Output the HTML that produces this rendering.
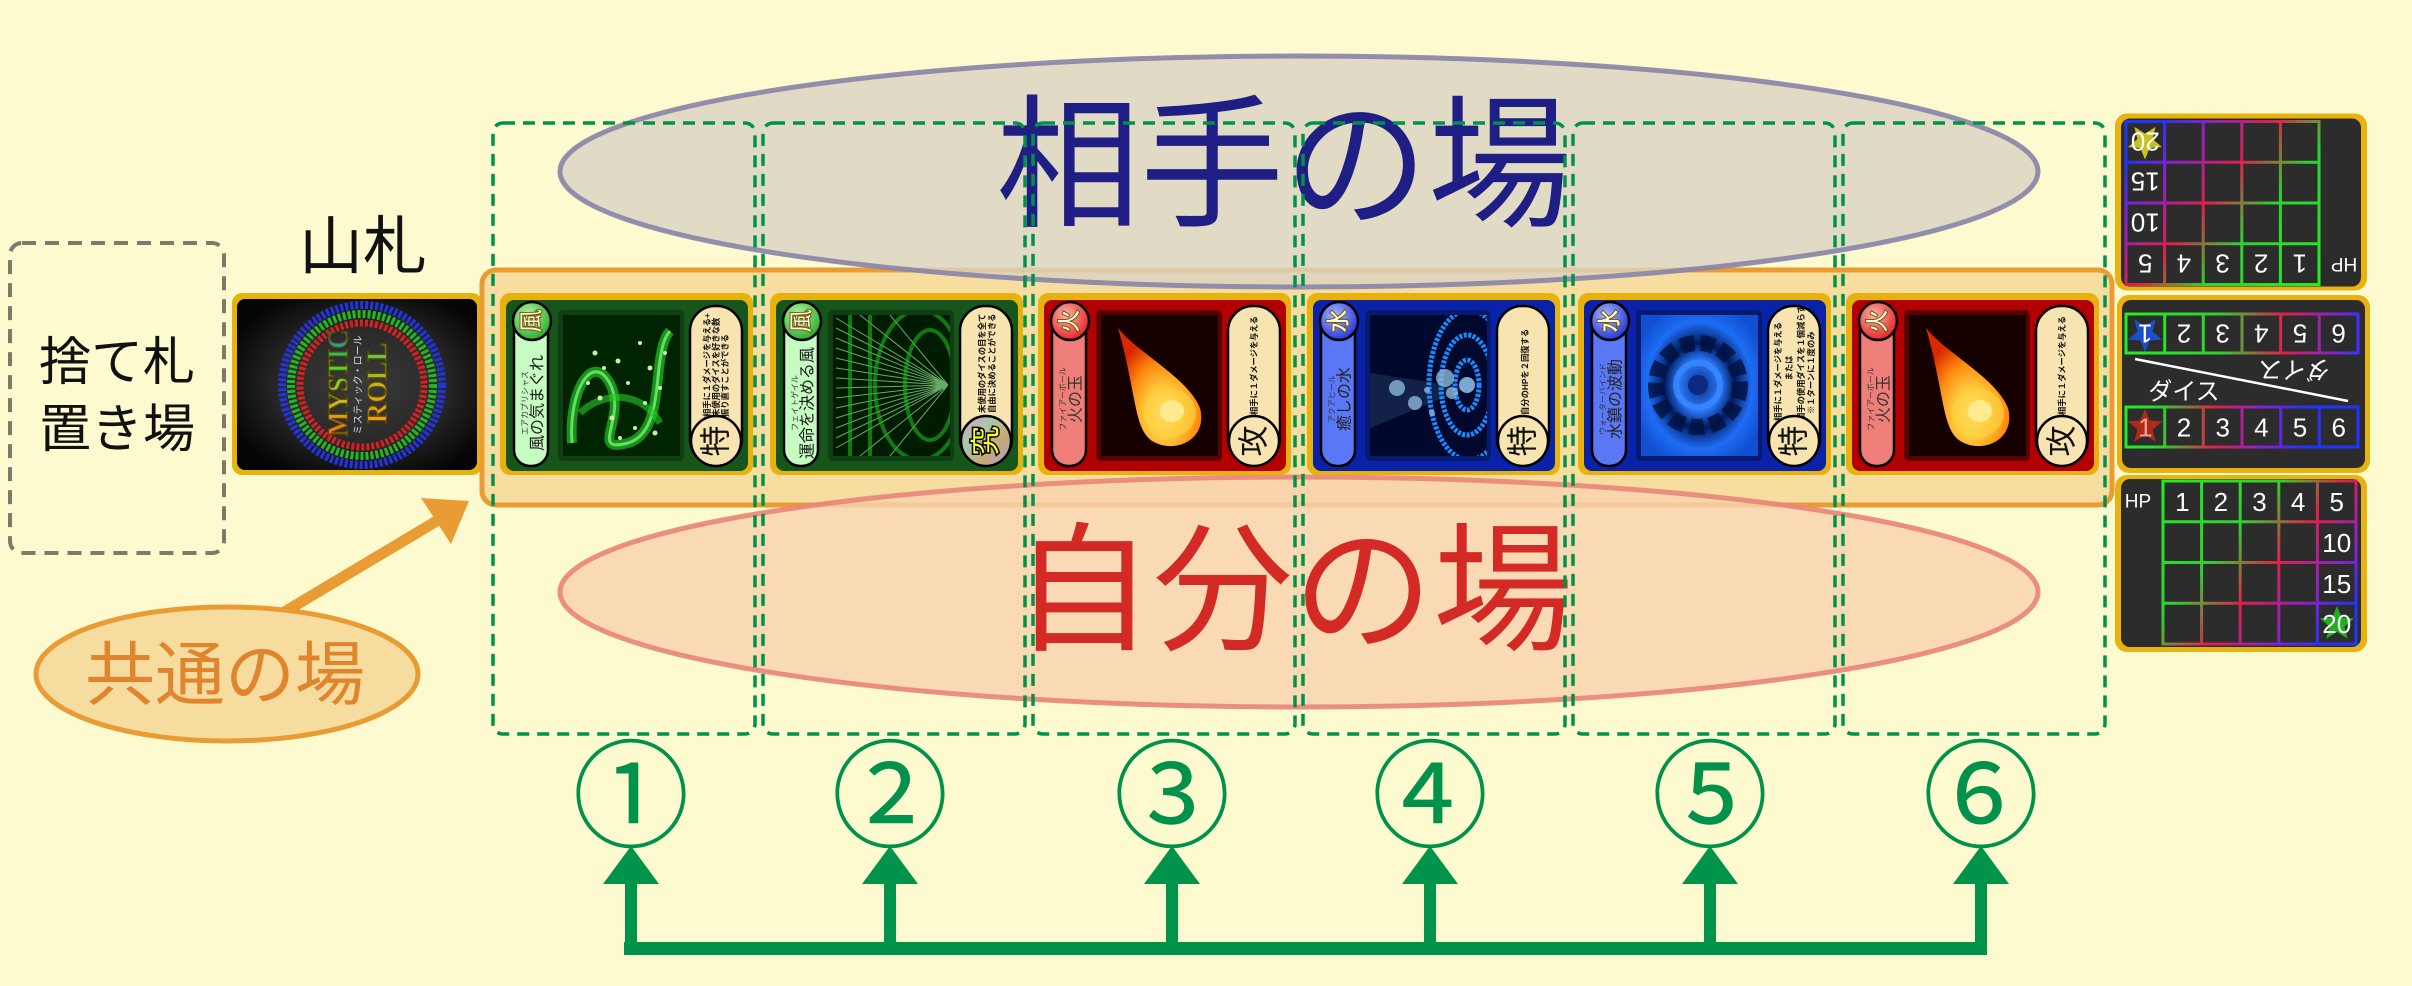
<!DOCTYPE html>
<html><head><meta charset="utf-8">
<style>
html,body{margin:0;padding:0;background:#fefacf;}
svg{display:block;}
.jp{font-family:"Liberation Sans","Noto Sans CJK JP",sans-serif;}
.nm{font-family:"Liberation Sans","Noto Sans CJK JP",sans-serif;font-size:16px;text-anchor:middle;dominant-baseline:central;fill:#1a1a1a;}
.rb{font-family:"Liberation Sans","Noto Sans CJK JP",sans-serif;font-size:8px;text-anchor:middle;dominant-baseline:central;fill:#333;}
.ef{font-family:"Liberation Sans","Noto Sans CJK JP",sans-serif;font-size:8.3px;text-anchor:start;dominant-baseline:central;fill:#111;font-weight:bold;}
.el{font-family:"Liberation Sans","Noto Sans CJK JP",sans-serif;font-size:24px;text-anchor:middle;dominant-baseline:central;fill:#fffbe0;stroke:#6b5200;stroke-width:0.9px;font-weight:bold;}
.bd{font-family:"Liberation Sans","Noto Sans CJK JP",sans-serif;font-size:31px;text-anchor:middle;dominant-baseline:central;fill:#111;}
.num{font-family:"Liberation Sans",sans-serif;font-size:26px;text-anchor:middle;dominant-baseline:central;fill:#fff;}
.dj{font-family:"Liberation Sans","Noto Sans CJK JP",sans-serif;font-size:24px;text-anchor:middle;dominant-baseline:central;fill:#fff;}
.cn{font-family:"Noto Sans CJK JP","Liberation Sans",sans-serif;font-size:117px;font-weight:normal;text-anchor:middle;dominant-baseline:central;fill:#00924a;}
</style></head>
<body>
<svg width="2412" height="986" viewBox="0 0 2412 986" xmlns="http://www.w3.org/2000/svg">
<defs>
  <radialGradient id="elG" cx="0.4" cy="0.35" r="0.7"><stop offset="0" stop-color="#b8f7a8"/><stop offset="1" stop-color="#23a823"/></radialGradient>
  <radialGradient id="elR" cx="0.4" cy="0.35" r="0.7"><stop offset="0" stop-color="#ffb0a8"/><stop offset="1" stop-color="#e31e1e"/></radialGradient>
  <radialGradient id="elB" cx="0.4" cy="0.35" r="0.7"><stop offset="0" stop-color="#a8b8ff"/><stop offset="1" stop-color="#1f2fd8"/></radialGradient>
  <linearGradient id="holo" x1="0" y1="0" x2="1" y2="1"><stop offset="0" stop-color="#d8a0c8"/><stop offset="0.35" stop-color="#a8c8a8"/><stop offset="0.65" stop-color="#c8a878"/><stop offset="1" stop-color="#a0a0d8"/></linearGradient>
  <radialGradient id="fire" cx="0.55" cy="0.72" r="0.65"><stop offset="0" stop-color="#fff6b0"/><stop offset="0.3" stop-color="#ffd040"/><stop offset="0.65" stop-color="#ff8a10"/><stop offset="1" stop-color="#d82800"/></radialGradient>
  <radialGradient id="deckbg" cx="0.52" cy="0.5" r="0.6"><stop offset="0" stop-color="#3a3a3a"/><stop offset="0.55" stop-color="#2a2a2a"/><stop offset="1" stop-color="#050505"/></radialGradient>
  <radialGradient id="swirlB" cx="0.5" cy="0.5" r="0.6"><stop offset="0" stop-color="#0a2a80"/><stop offset="0.3" stop-color="#2a7aff"/><stop offset="0.5" stop-color="#001a5a"/><stop offset="0.75" stop-color="#1e6cf5"/><stop offset="1" stop-color="#1050d0"/></radialGradient>
  <linearGradient id="mys" x1="0" y1="0" x2="1" y2="0"><stop offset="0" stop-color="#ff6a10"/><stop offset="0.35" stop-color="#c8c020"/><stop offset="0.7" stop-color="#30e030"/><stop offset="1" stop-color="#2060ff"/></linearGradient>
  <linearGradient id="rol" x1="0" y1="0" x2="1" y2="0"><stop offset="0" stop-color="#ff9a10"/><stop offset="0.5" stop-color="#c8b020"/><stop offset="1" stop-color="#30d060"/></linearGradient>
  <linearGradient id="gP" gradientUnits="userSpaceOnUse" x1="2163" y1="481" x2="2356" y2="644"><stop offset="0" stop-color="#22ee22"/><stop offset="0.35" stop-color="#30d030"/><stop offset="0.55" stop-color="#e0204a"/><stop offset="0.75" stop-color="#8822cc"/><stop offset="0.9" stop-color="#2233ff"/><stop offset="1" stop-color="#2233ff"/></linearGradient>
  <linearGradient id="gM1" gradientUnits="userSpaceOnUse" x1="2126" y1="0" x2="2358" y2="0"><stop offset="0" stop-color="#22ee22"/><stop offset="0.4" stop-color="#30d030"/><stop offset="0.68" stop-color="#e0204a"/><stop offset="0.88" stop-color="#8a22c8"/><stop offset="1" stop-color="#4030ff"/></linearGradient>
  <linearGradient id="gM2" gradientUnits="userSpaceOnUse" x1="2126" y1="0" x2="2358" y2="0"><stop offset="0" stop-color="#22ee22"/><stop offset="0.15" stop-color="#30d030"/><stop offset="0.38" stop-color="#e0204a"/><stop offset="0.58" stop-color="#8a22c8"/><stop offset="0.78" stop-color="#2233ff"/><stop offset="1" stop-color="#2233ff"/></linearGradient>
  <polygon id="star" points="0,-18 4.7,-6.5 17.1,-5.6 7.6,2.5 10.6,14.6 0,8 -10.6,14.6 -7.6,2.5 -17.1,-5.6 -4.7,-6.5"/>
  <clipPath id="ci"><rect x="63" y="22" width="117" height="141"/></clipPath>
</defs>

<rect width="2412" height="986" fill="#fefacf"/>

<!-- discard area -->
<rect x="10" y="243" width="214" height="310" rx="12" fill="none" stroke="#7c7a68" stroke-width="4" stroke-dasharray="14 9"/>
<text x="117" y="363" class="jp" font-size="52" text-anchor="middle" dominant-baseline="central" fill="#111">捨て札</text>
<text x="117" y="430" class="jp" font-size="52" text-anchor="middle" dominant-baseline="central" fill="#111">置き場</text>

<!-- deck -->
<text x="363" y="247" class="jp" font-size="64" text-anchor="middle" dominant-baseline="central" fill="#111">山札</text>
<g transform="translate(232,293)">
  <rect width="250" height="182" rx="10" fill="#e8b20e"/>
  <rect x="5" y="6" width="240" height="171" rx="8" fill="url(#deckbg)"/>
  <circle cx="130" cy="92" r="80" fill="none" stroke="#2233e0" stroke-width="8" stroke-dasharray="3 2"/>
  <circle cx="130" cy="92" r="71" fill="none" stroke="#22b822" stroke-width="8" stroke-dasharray="3 2"/>
  <circle cx="130" cy="92" r="62" fill="none" stroke="#d82020" stroke-width="7" stroke-dasharray="3 2"/>
  <g transform="translate(107,90) rotate(-90)">
    <text x="0" y="0" font-family="Liberation Serif,serif" font-weight="bold" font-size="28" text-anchor="middle" dominant-baseline="central" fill="url(#mys)" stroke="#5a4a00" stroke-width="1.2" textLength="107" lengthAdjust="spacingAndGlyphs">MYSTIC</text>
  </g>
  <g transform="translate(127,92) rotate(-90)">
    <text x="0" y="0" class="jp" font-size="10" text-anchor="middle" dominant-baseline="central" fill="#ddd">ミスティック・ロール</text>
  </g>
  <g transform="translate(146,90) rotate(-90)">
    <text x="0" y="0" font-family="Liberation Serif,serif" font-weight="bold" font-size="28" text-anchor="middle" dominant-baseline="central" fill="url(#rol)" stroke="#5a4a00" stroke-width="1.2" textLength="81" lengthAdjust="spacingAndGlyphs">ROLL</text>
  </g>
</g>

<!-- common area -->
<rect x="482" y="270" width="1630" height="235" rx="14" fill="#f7dea0" stroke="#e99c33" stroke-width="5"/>

<!-- ellipses -->
<ellipse cx="1299" cy="171.5" rx="739" ry="115.5" fill="#dad3c1" fill-opacity="0.82" stroke="#8a85a8" stroke-width="5" stroke-opacity="0.92"/>
<ellipse cx="1299" cy="592" rx="739" ry="115" fill="#f9d3ae" fill-opacity="0.82" stroke="#e8877a" stroke-width="5" stroke-opacity="0.92"/>
<text x="1284" y="166" class="jp" font-size="144" font-weight="normal" text-anchor="middle" dominant-baseline="central" fill="#1e1e84">相手の場</text>
<text x="1293" y="591" class="jp" font-size="140" font-weight="normal" text-anchor="middle" dominant-baseline="central" fill="#d42a25">自分の場</text>

<!-- CARD 1 -->
<g transform="translate(500,293)">
  <rect width="253" height="182" rx="10" fill="#e8b20e"/>
  <rect x="6" y="7" width="242" height="171" rx="8" fill="#17561b"/>
  <rect x="14" y="10" width="34" height="163" rx="16" fill="#c6fbc2" stroke="#000" stroke-width="2.5"/>
  <circle cx="32" cy="28" r="19" fill="url(#elG)" stroke="#000" stroke-width="2.5"/>
  <text transform="translate(32,28) rotate(-90)" class="el">風</text>
  <text transform="translate(38,110) rotate(-90)" class="nm">風の気まぐれ</text>
  <text transform="translate(25,110) rotate(-90)" class="rb">エアカプリシャス</text>
  <rect x="58" y="17" width="126" height="151" rx="5" fill="#0e3e12"/>
  <g clip-path="url(#ci)">
    <rect x="63" y="22" width="117" height="141" fill="#002400"/>
    <path d="M72,150 C68,95 95,55 112,95 C124,128 90,160 128,150 C168,138 150,60 170,38" fill="none" stroke="#1fb81f" stroke-width="10" opacity="0.75"/>
    <path d="M72,150 C68,95 95,55 112,95 C124,128 90,160 128,150 C168,138 150,60 170,38" fill="none" stroke="#7af07a" stroke-width="3" opacity="0.8"/>
    <path d="M80,120 C100,100 140,95 160,130" fill="none" stroke="#28c828" stroke-width="7" opacity="0.6"/>
    <g fill="#c8f0a0">
      <circle cx="95" cy="60" r="2.5"/><circle cx="104" cy="75" r="2"/><circle cx="118" cy="68" r="2.5"/><circle cx="140" cy="50" r="2"/><circle cx="150" cy="75" r="2.5"/>
      <circle cx="128" cy="90" r="2"/><circle cx="100" cy="105" r="2.5"/><circle cx="145" cy="110" r="2"/><circle cx="160" cy="95" r="2"/><circle cx="112" cy="125" r="2.5"/>
      <circle cx="135" cy="135" r="2"/><circle cx="88" cy="90" r="2"/><circle cx="155" cy="140" r="2.5"/><circle cx="120" cy="145" r="2"/><circle cx="165" cy="60" r="2"/>
    </g>
  </g>
  <rect x="190" y="13" width="52" height="158" rx="25" fill="#f8e4b0" stroke="#000" stroke-width="2.5"/>
  <text transform="translate(207,124) rotate(-90)" class="ef">相手に１ダメージを与える+</text>
  <text transform="translate(216,124) rotate(-90)" class="ef">未使用のダイスを好きな数</text>
  <text transform="translate(225,124) rotate(-90)" class="ef">振り直すことができる</text>
  <circle cx="216" cy="148" r="25" fill="#f8e4b0" stroke="#000" stroke-width="2.5"/>
  <text transform="translate(216,148) rotate(-90)" class="bd">特</text>
</g>

<!-- CARD 2 -->
<g transform="translate(770,293)">
  <rect width="253" height="182" rx="10" fill="#e8b20e"/>
  <rect x="6" y="7" width="242" height="171" rx="8" fill="#17561b"/>
  <rect x="14" y="10" width="34" height="163" rx="16" fill="#c6fbc2" stroke="#000" stroke-width="2.5"/>
  <circle cx="32" cy="28" r="19" fill="url(#elG)" stroke="#000" stroke-width="2.5"/>
  <text transform="translate(32,28) rotate(-90)" class="el">風</text>
  <text transform="translate(38,110) rotate(-90)" class="nm">運命を決める風</text>
  <text transform="translate(25,110) rotate(-90)" class="rb">フェイトゲイル</text>
  <rect x="58" y="17" width="126" height="151" rx="5" fill="#0e3e12"/>
  <g clip-path="url(#ci)">
    <rect x="63" y="22" width="117" height="141" fill="#001c00"/>
    <g stroke="#8ad88a" stroke-width="1" opacity="0.75" fill="none">
      <path d="M178,92 L66,25 M178,92 L66,35 M178,92 L66,45 M178,92 L66,55 M178,92 L66,65 M178,92 L66,75 M178,92 L66,85 M178,92 L66,95 M178,92 L66,105 M178,92 L66,115 M178,92 L66,125 M178,92 L66,135 M178,92 L66,145 M178,92 L66,155 M178,92 L90,22 M178,92 L90,163 M178,92 L120,22 M178,92 L120,163"/>
    </g>
    <g stroke="#1fb81f" stroke-width="4" opacity="0.6" fill="none">
      <ellipse cx="160" cy="92" rx="25" ry="55"/><ellipse cx="150" cy="92" rx="45" ry="75"/>
      <path d="M80,22 L80,163 M100,22 L100,163"/>
    </g>
  </g>
  <rect x="190" y="13" width="52" height="158" rx="25" fill="#f8e4b0" stroke="#000" stroke-width="2.5"/>
  <text transform="translate(212,120) rotate(-90)" class="ef">未使用のダイスの目を全て</text>
  <text transform="translate(222,120) rotate(-90)" class="ef">自由に決めることができる</text>
  <circle cx="216" cy="148" r="25" fill="url(#holo)" stroke="#000" stroke-width="2.5"/>
  <text transform="translate(216,148) rotate(-90)" class="bd" stroke="#000" stroke-width="1.5" style="fill:#ffff20;font-weight:bold">究</text>
</g>

<!-- CARD 3 -->
<g transform="translate(1038,293)">
  <rect width="253" height="182" rx="10" fill="#e8b20e"/>
  <rect x="6" y="7" width="242" height="171" rx="8" fill="#b20000"/>
  <rect x="14" y="10" width="34" height="163" rx="16" fill="#ee7f78" stroke="#000" stroke-width="2.5"/>
  <circle cx="32" cy="28" r="19" fill="url(#elR)" stroke="#000" stroke-width="2.5"/>
  <text transform="translate(32,28) rotate(-90)" class="el">火</text>
  <text transform="translate(38,106) rotate(-90)" class="nm" style="fill:#333">火の玉</text>
  <text transform="translate(25,106) rotate(-90)" class="rb">ファイアーボール</text>
  <rect x="58" y="17" width="126" height="151" rx="5" fill="#5a0000"/>
  <g clip-path="url(#ci)">
    <rect x="63" y="22" width="117" height="141" fill="#160000"/>
    <path d="M80,35 C100,60 150,85 162,115 C170,145 140,160 118,150 C95,140 100,105 80,35 Z" fill="url(#fire)"/>
    <ellipse cx="132" cy="120" rx="26" ry="24" fill="#ffd040" opacity="0.7"/>
    <ellipse cx="134" cy="118" rx="12" ry="11" fill="#fff0a0" opacity="0.8"/>
  </g>
  <rect x="190" y="13" width="52" height="158" rx="25" fill="#f8e4b0" stroke="#000" stroke-width="2.5"/>
  <text transform="translate(216,122) rotate(-90)" class="ef">相手に１ダメージを与える</text>
  <circle cx="216" cy="148" r="25" fill="#f8e4b0" stroke="#000" stroke-width="2.5"/>
  <text transform="translate(216,148) rotate(-90)" class="bd">攻</text>
</g>

<!-- CARD 4 -->
<g transform="translate(1307,293)">
  <rect width="253" height="182" rx="10" fill="#e8b20e"/>
  <rect x="6" y="7" width="242" height="171" rx="8" fill="#0a22a8"/>
  <rect x="14" y="10" width="34" height="163" rx="16" fill="#5a78f5" stroke="#000" stroke-width="2.5"/>
  <circle cx="32" cy="28" r="19" fill="url(#elB)" stroke="#000" stroke-width="2.5"/>
  <text transform="translate(32,28) rotate(-90)" class="el">水</text>
  <text transform="translate(38,106) rotate(-90)" class="nm" style="fill:#222">癒しの水</text>
  <text transform="translate(25,106) rotate(-90)" class="rb">アクアヒール</text>
  <rect x="58" y="17" width="126" height="151" rx="5" fill="#061a70"/>
  <g clip-path="url(#ci)">
    <rect x="63" y="22" width="117" height="141" fill="#00082e"/>
    <path d="M63,80 L160,95 L63,135 Z" fill="#4a6a9a" opacity="0.25"/>
    <g fill="none" stroke="#1a8aff" stroke-width="5" stroke-dasharray="3 1.5">
      <ellipse cx="160" cy="92" rx="12" ry="25"/><ellipse cx="160" cy="92" rx="26" ry="50"/><ellipse cx="162" cy="92" rx="40" ry="75"/>
    </g>
    <circle cx="160" cy="92" r="8" fill="#9ad0ff" opacity="0.8"/>
    <g fill="#8ab8d8" opacity="0.8">
      <circle cx="138" cy="85" r="9"/><circle cx="145" cy="100" r="6"/><circle cx="90" cy="95" r="8"/><circle cx="108" cy="110" r="7"/><circle cx="120" cy="97" r="3"/><circle cx="125" cy="120" r="3"/>
    </g>
  </g>
  <rect x="190" y="13" width="52" height="158" rx="25" fill="#f8e4b0" stroke="#000" stroke-width="2.5"/>
  <text transform="translate(218,122) rotate(-90)" class="ef">自分のHPを２回復する</text>
  <circle cx="216" cy="148" r="25" fill="#f8e4b0" stroke="#000" stroke-width="2.5"/>
  <text transform="translate(216,148) rotate(-90)" class="bd">特</text>
</g>

<!-- CARD 5 -->
<g transform="translate(1578,293)">
  <rect width="253" height="182" rx="10" fill="#e8b20e"/>
  <rect x="6" y="7" width="242" height="171" rx="8" fill="#0a22a8"/>
  <rect x="14" y="10" width="34" height="163" rx="16" fill="#5a78f5" stroke="#000" stroke-width="2.5"/>
  <circle cx="32" cy="28" r="19" fill="url(#elB)" stroke="#000" stroke-width="2.5"/>
  <text transform="translate(32,28) rotate(-90)" class="el">水</text>
  <text transform="translate(38,106) rotate(-90)" class="nm" style="fill:#222">水鎮の波動</text>
  <text transform="translate(25,106) rotate(-90)" class="rb">ウォーターバインド</text>
  <rect x="58" y="17" width="126" height="151" rx="5" fill="#061a70"/>
  <g clip-path="url(#ci)">
    <rect x="63" y="22" width="117" height="141" fill="url(#swirlB)"/>
    <circle cx="120" cy="92" r="42" fill="none" stroke="#001040" stroke-width="16" stroke-dasharray="14 6" opacity="0.8"/>
    <circle cx="120" cy="92" r="22" fill="none" stroke="#3a8aff" stroke-width="6" opacity="0.8"/>
    <circle cx="120" cy="92" r="10" fill="#0a2a80"/>
  </g>
  <rect x="190" y="13" width="52" height="158" rx="25" fill="#f8e4b0" stroke="#000" stroke-width="2.5"/>
  <text transform="translate(200,128) rotate(-90)" class="ef">相手に１ダメージを与える</text>
  <text transform="translate(211,75) rotate(-90)" class="ef" style="text-anchor:middle">または</text>
  <text transform="translate(223,128) rotate(-90)" class="ef">相手の使用ダイスを１個減らす</text>
  <text transform="translate(233,121) rotate(-90)" class="ef">※１ターンに１度のみ</text>
  <circle cx="216" cy="148" r="25" fill="#f8e4b0" stroke="#000" stroke-width="2.5"/>
  <text transform="translate(216,148) rotate(-90)" class="bd">特</text>
</g>

<!-- CARD 6 -->
<g transform="translate(1846,293)">
  <rect width="253" height="182" rx="10" fill="#e8b20e"/>
  <rect x="6" y="7" width="242" height="171" rx="8" fill="#b20000"/>
  <rect x="14" y="10" width="34" height="163" rx="16" fill="#ee7f78" stroke="#000" stroke-width="2.5"/>
  <circle cx="32" cy="28" r="19" fill="url(#elR)" stroke="#000" stroke-width="2.5"/>
  <text transform="translate(32,28) rotate(-90)" class="el">火</text>
  <text transform="translate(38,106) rotate(-90)" class="nm" style="fill:#333">火の玉</text>
  <text transform="translate(25,106) rotate(-90)" class="rb">ファイアーボール</text>
  <rect x="58" y="17" width="126" height="151" rx="5" fill="#5a0000"/>
  <g clip-path="url(#ci)">
    <rect x="63" y="22" width="117" height="141" fill="#160000"/>
    <path d="M80,35 C100,60 150,85 162,115 C170,145 140,160 118,150 C95,140 100,105 80,35 Z" fill="url(#fire)"/>
    <ellipse cx="132" cy="120" rx="26" ry="24" fill="#ffd040" opacity="0.7"/>
    <ellipse cx="134" cy="118" rx="12" ry="11" fill="#fff0a0" opacity="0.8"/>
  </g>
  <rect x="190" y="13" width="52" height="158" rx="25" fill="#f8e4b0" stroke="#000" stroke-width="2.5"/>
  <text transform="translate(216,122) rotate(-90)" class="ef">相手に１ダメージを与える</text>
  <circle cx="216" cy="148" r="25" fill="#f8e4b0" stroke="#000" stroke-width="2.5"/>
  <text transform="translate(216,148) rotate(-90)" class="bd">攻</text>
</g>

<!-- RIGHT PANELS -->
<!-- top (rotated copy) -->
<g transform="rotate(180 2241 382.75)">
  <rect x="2115" y="475" width="252" height="177" rx="12" fill="#e9b30f"/>
  <rect x="2121" y="479" width="240" height="168" rx="9" fill="#2c2c2c"/>
  <text x="2138" y="502" class="num" style="font-size:19px">HP</text>
  <use href="#star" transform="translate(2337,624)" fill="#c8c020"/>
  <g stroke="url(#gP)" stroke-width="3" fill="none">
    <rect x="2163" y="481" width="193" height="163"/>
    <path d="M2201.6,481V644M2240.2,481V644M2278.8,481V644M2317.4,481V644M2163,521.75H2356M2163,562.5H2356M2163,603.25H2356"/>
  </g>
  <text x="2182.3" y="502" class="num">1</text><text x="2220.9" y="502" class="num">2</text><text x="2259.5" y="502" class="num">3</text><text x="2298.1" y="502" class="num">4</text><text x="2336.7" y="502" class="num">5</text>
  <text x="2336.7" y="543" class="num">10</text><text x="2336.7" y="584" class="num">15</text><text x="2336.7" y="624" class="num">20</text>
</g>

<!-- middle -->
<rect x="2117" y="295" width="253" height="178" rx="12" fill="#e9b30f"/>
<rect x="2122" y="300" width="243" height="168" rx="9" fill="#2c2c2c"/>
<use href="#star" transform="translate(2145,334) rotate(180)" fill="#1a50c8"/>
<g stroke="url(#gM1)" stroke-width="3" fill="none">
  <rect x="2126" y="314" width="232" height="39"/>
  <path d="M2164.7,314V353M2203.3,314V353M2242,314V353M2280.7,314V353M2319.3,314V353"/>
</g>
<text transform="translate(2145.3,333.5) rotate(180)" class="num">1</text>
<text transform="translate(2184,333.5) rotate(180)" class="num">2</text>
<text transform="translate(2222.7,333.5) rotate(180)" class="num">3</text>
<text transform="translate(2261.3,333.5) rotate(180)" class="num">4</text>
<text transform="translate(2300,333.5) rotate(180)" class="num">5</text>
<text transform="translate(2338.7,333.5) rotate(180)" class="num">6</text>
<line x1="2135" y1="359" x2="2348" y2="401" stroke="#fff" stroke-width="2.5"/>
<text x="2184" y="392" class="dj">ダイス</text>
<text transform="translate(2294,369) rotate(180)" class="dj">ダイス</text>
<use href="#star" transform="translate(2145,427)" fill="#b02a18"/>
<g stroke="url(#gM2)" stroke-width="3" fill="none">
  <rect x="2126" y="407" width="232" height="40"/>
  <path d="M2164.7,407V447M2203.3,407V447M2242,407V447M2280.7,407V447M2319.3,407V447"/>
</g>
<text x="2145.3" y="427.5" class="num" style="fill:#f0a090">1</text>
<text x="2184" y="427.5" class="num">2</text>
<text x="2222.7" y="427.5" class="num">3</text>
<text x="2261.3" y="427.5" class="num">4</text>
<text x="2300" y="427.5" class="num">5</text>
<text x="2338.7" y="427.5" class="num">6</text>

<!-- bottom -->
<g>
  <rect x="2115" y="475" width="252" height="177" rx="12" fill="#e9b30f"/>
  <rect x="2121" y="479" width="240" height="168" rx="9" fill="#2c2c2c"/>
  <text x="2138" y="502" class="num" style="font-size:19px">HP</text>
  <use href="#star" transform="translate(2337,624)" fill="#1fae1f"/>
  <g stroke="url(#gP)" stroke-width="3" fill="none">
    <rect x="2163" y="481" width="193" height="163"/>
    <path d="M2201.6,481V644M2240.2,481V644M2278.8,481V644M2317.4,481V644M2163,521.75H2356M2163,562.5H2356M2163,603.25H2356"/>
  </g>
  <text x="2182.3" y="502" class="num">1</text><text x="2220.9" y="502" class="num">2</text><text x="2259.5" y="502" class="num">3</text><text x="2298.1" y="502" class="num">4</text><text x="2336.7" y="502" class="num">5</text>
  <text x="2336.7" y="543" class="num">10</text><text x="2336.7" y="584" class="num">15</text><text x="2336.7" y="624" class="num">20</text>
</g>

<!-- 共通の場 -->
<line x1="281" y1="614" x2="440" y2="519" stroke="#e99c33" stroke-width="11" stroke-linecap="round"/>
<polygon points="469,501 421,498 451,544" fill="#e99c33"/>
<ellipse cx="227" cy="674" rx="191" ry="67" fill="#f7dc9f" stroke="#e99c33" stroke-width="5"/>
<text x="225" y="675" class="jp" font-size="70" text-anchor="middle" dominant-baseline="central" fill="#e0852e">共通の場</text>

<!-- columns -->
<g fill="none" stroke="#00924a" stroke-width="3.5" stroke-dasharray="12 8">
  <rect x="493" y="123" width="262" height="611" rx="10"/>
  <rect x="763" y="123" width="262" height="611" rx="10"/>
  <rect x="1033" y="123" width="262" height="611" rx="10"/>
  <rect x="1303" y="123" width="262" height="611" rx="10"/>
  <rect x="1573" y="123" width="262" height="611" rx="10"/>
  <rect x="1843" y="123" width="262" height="611" rx="10"/>
</g>

<!-- numbers -->
<text x="631" y="787" class="cn">①</text>
<text x="890" y="787" class="cn">②</text>
<text x="1172" y="787" class="cn">③</text>
<text x="1430" y="787" class="cn">④</text>
<text x="1710" y="787" class="cn">⑤</text>
<text x="1981" y="787" class="cn">⑥</text>

<!-- green arrows -->
<g fill="#00934a">
  <rect x="624" y="942" width="1363" height="13"/>
  <rect x="625" y="880" width="12" height="70"/>
  <rect x="884" y="880" width="12" height="70"/>
  <rect x="1166" y="880" width="12" height="70"/>
  <rect x="1424" y="880" width="12" height="70"/>
  <rect x="1704" y="880" width="12" height="70"/>
  <rect x="1975" y="880" width="12" height="70"/>
  <polygon points="631,846 603,884 659,884"/>
  <polygon points="890,846 862,884 918,884"/>
  <polygon points="1172,846 1144,884 1200,884"/>
  <polygon points="1430,846 1402,884 1458,884"/>
  <polygon points="1710,846 1682,884 1738,884"/>
  <polygon points="1981,846 1953,884 2009,884"/>
</g>
</svg>
</body></html>
